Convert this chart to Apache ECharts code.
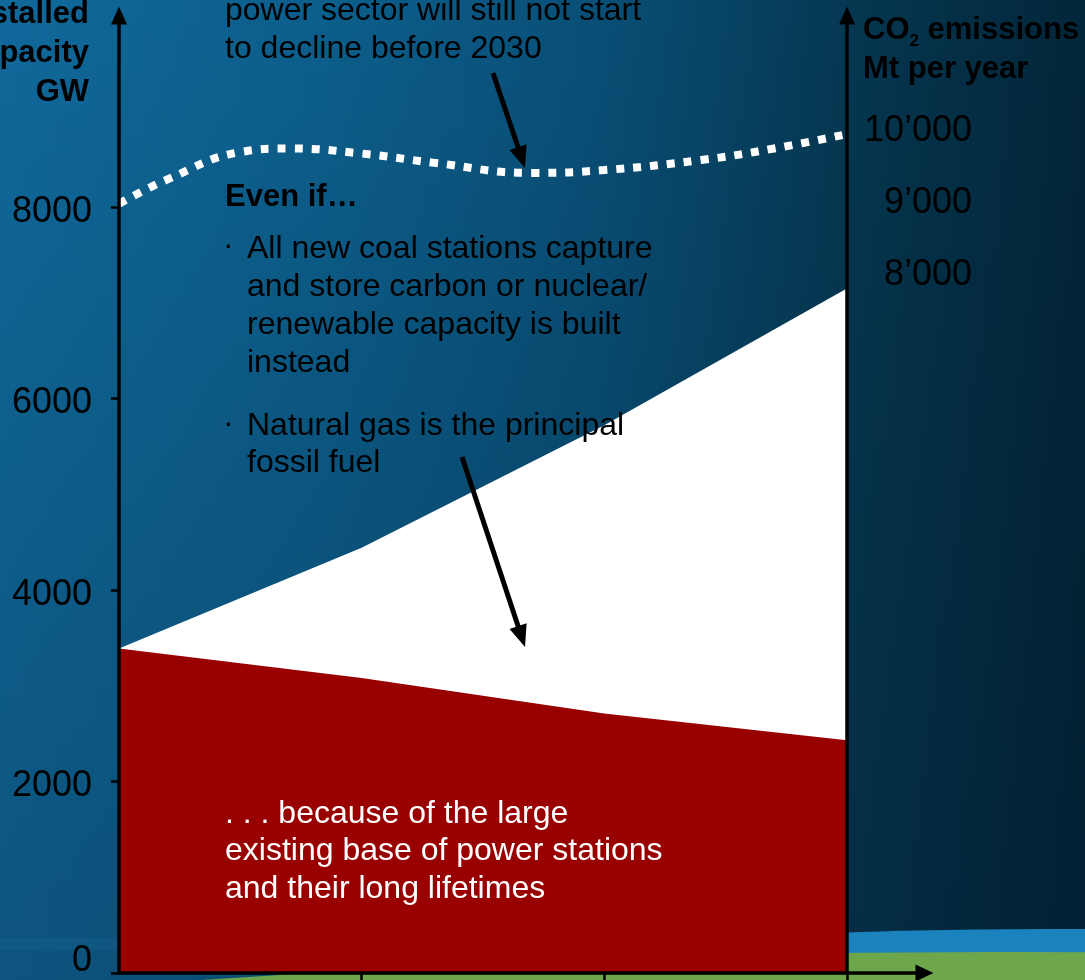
<!DOCTYPE html>
<html>
<head>
<meta charset="utf-8">
<script src="https://cdn.jsdelivr.net/npm/echarts@6/dist/echarts.min.js"></script>
<style>
  html, body { margin: 0; padding: 0; background: #0a4d72; }
  #chart { width: 1085px; height: 980px; }
</style>
</head>
<body>
<div id="chart"></div>
<script>
// Installed power capacity (GW): total vs. the existing stock still in service
const years = [2000, 2010, 2020, 2030];
const totalCapacityGW = [3390, 4440, 5720, 7150];
const existingCapacityGW = [3390, 3080, 2710, 2430];

// Power-sector CO2 emissions (Mt per year)
const co2Years = [2000, 2002, 2005, 2007, 2010, 2013, 2017, 2020, 2024, 2027, 2030];
const co2Mt = [8950, 9290, 9670, 9720, 9650, 9520, 9380, 9420, 9560, 9720, 9920];

// Axis ticks and labels
const capacityTicks = [0, 2000, 4000, 6000, 8000];
const co2Ticks = [8000, 9000, 10000];
const co2TickLabels = ['8’000', '9’000', '10’000'];
const yearTicks = [2010, 2020, 2030];

const FONT = "'Liberation Sans', Arial, Helvetica, sans-serif";

const chart = echarts.init(document.getElementById('chart'), null, { renderer: 'canvas' });

// Straight annotation arrow with a solid triangular head
function arrow(x1, y1, x2, y2) {
  const dx = x2 - x1, dy = y2 - y1;
  const len = Math.sqrt(dx * dx + dy * dy);
  const ux = dx / len, uy = dy / len;
  const head = 22, half = 9;
  const bx = x2 - ux * head, by = y2 - uy * head;
  const nx = -uy, ny = ux;
  return [
    { type: 'line', z: 30, shape: { x1: x1, y1: y1, x2: bx + ux * 2, y2: by + uy * 2 },
      style: { stroke: '#000', lineWidth: 5 } },
    { type: 'polygon', z: 30,
      shape: { points: [[x2, y2], [bx + nx * half, by + ny * half], [bx - nx * half, by - ny * half]] },
      style: { fill: '#000' } }
  ];
}

function label(x, top, text, opts) {
  return {
    type: 'text', z: 30, x: x, y: top,
    style: Object.assign({
      text: text,
      font: '32px ' + FONT,
      fill: '#000',
      lineHeight: 38,
      align: 'left',
      verticalAlign: 'top'
    }, opts || {})
  };
}

const tickFont = { fontFamily: FONT, fontSize: 36, color: '#000' };

const option = {
  animation: false,
  grid: { left: 119, right: 160.5, top: 15.5, bottom: 7, containLabel: false, outerBoundsMode: 'none' },
  xAxis: {
    type: 'value',
    min: 2000,
    max: 2033.2,
    z: 10,
    axisLine: {
      show: true,
      symbol: ['none', 'triangle'],
      symbolSize: [17, 18],
      lineStyle: { color: '#000', width: 3.5 }
    },
    axisTick: { show: true, inside: false, length: 9, customValues: yearTicks,
      lineStyle: { color: '#000', width: 2.5 } },
    axisLabel: { show: false },
    splitLine: { show: false }
  },
  yAxis: [
    {
      type: 'value',
      position: 'left',
      min: 0,
      max: 10000,
      z: 10,
      axisLine: {
        show: true,
        symbol: ['none', 'triangle'],
        symbolSize: [16, 18],
        lineStyle: { color: '#000', width: 3.5 }
      },
      axisTick: { show: true, inside: false, length: 8, customValues: capacityTicks,
        lineStyle: { color: '#000', width: 2.5 } },
      axisLabel: {
        customValues: capacityTicks,
        // labels sit slightly below their ticks; the zero label sits above the baseline
        formatter: function (v) { return v === 0 ? '{zero|0}' : '{n|' + v + '}'; },
        rich: {
          zero: Object.assign({ padding: [0, 0, 24, 0] }, tickFont),
          n: Object.assign({ padding: [10, 0, 0, 0] }, tickFont)
        },
        color: '#000',
        fontFamily: FONT,
        fontSize: 36,
        margin: 27
      },
      splitLine: { show: false }
    },
    {
      type: 'value',
      position: 'right',
      offset: -77.5,
      min: -1750,
      max: 11570,
      z: 10,
      axisLine: {
        show: true,
        symbol: ['none', 'triangle'],
        symbolSize: [16, 18],
        lineStyle: { color: '#000', width: 3.5 }
      },
      axisTick: { show: false },
      axisLabel: {
        customValues: co2Ticks,
        formatter: function (v) {
          const i = co2Ticks.indexOf(v);
          return i >= 0 ? '{n|' + co2TickLabels[i] + '}' : '';
        },
        rich: { n: Object.assign({ padding: [6, 0, 0, 0] }, tickFont) },
        color: '#000',
        fontFamily: FONT,
        fontSize: 36,
        align: 'right',
        margin: 125
      },
      splitLine: { show: false }
    }
  ],
  series: [
    {
      name: 'Total capacity',
      type: 'line',
      yAxisIndex: 0,
      z: 2,
      symbol: 'none',
      data: years.map((y, i) => [y, totalCapacityGW[i]]),
      lineStyle: { width: 0 },
      areaStyle: { color: '#ffffff', opacity: 1 }
    },
    {
      name: 'Existing capacity',
      type: 'line',
      yAxisIndex: 0,
      z: 3,
      symbol: 'none',
      data: years.map((y, i) => [y, existingCapacityGW[i]]),
      lineStyle: { width: 0 },
      areaStyle: { color: '#990000', opacity: 1 }
    },
    {
      name: 'CO2 emissions',
      type: 'line',
      yAxisIndex: 1,
      z: 4,
      symbol: 'none',
      smooth: 0.45,
      data: co2Years.map((y, i) => [y, co2Mt[i]]),
      lineStyle: { color: '#ffffff', width: 8, type: [8, 9], cap: 'butt' }
    }
  ],
  graphic: [
    // backdrop: deep blue, darker to the right and toward the bottom
    { type: 'rect', z: -20, shape: { x: 0, y: 0, width: 1085, height: 980 },
      style: { fill: new echarts.graphic.LinearGradient(0, 0, 1, 0, [
        { offset: 0, color: '#10699b' },
        { offset: 0.3, color: '#0c5e8b' },
        { offset: 0.55, color: '#094f77' },
        { offset: 0.8, color: '#05364f' },
        { offset: 1, color: '#03263a' }
      ]) } },
    { type: 'rect', z: -19, shape: { x: 0, y: 0, width: 1085, height: 980 },
      style: { fill: new echarts.graphic.LinearGradient(0, 0, 0, 1, [
        { offset: 0, color: 'rgba(0,0,0,0)' },
        { offset: 1, color: 'rgba(0,10,25,0.22)' }
      ]) } },
    // faint glow line at the lower left
    { type: 'rect', z: -18, shape: { x: 0, y: 938, width: 119, height: 12 },
      style: { fill: 'rgba(50,140,190,0.09)' } },
    // horizon: atmosphere band and land
    { type: 'circle', z: -17, shape: { cx: 1050, cy: 929 + 6000, r: 6000 },
      style: { fill: '#1a82bc' } },
    { type: 'circle', z: -16, shape: { cx: 1000, cy: 952 + 11400, r: 11400 },
      style: { fill: '#6ea74b' } },

    // axis titles
    label(89, -5.5, 'Installed\ncapacity\nGW',
      { font: 'bold 31px ' + FONT, align: 'right', lineHeight: 39 }),
    label(863, 10.5, 'CO{s|2} emissions\nMt per year',
      { font: 'bold 31px ' + FONT, lineHeight: 39,
        rich: { s: { fontFamily: FONT, fontWeight: 'bold', fontSize: 17, verticalAlign: 'bottom', lineHeight: 30 } } }),

    // annotations
    label(225, -8, 'power sector will still not start\nto decline before 2030'),
    ...arrow(493, 73, 525, 168),
    label(225, 178, 'Even if…', { font: 'bold 31px ' + FONT }),
    label(223, 227, '·'),
    label(247, 230, 'All new coal stations capture\nand store carbon or nuclear/\nrenewable capacity is built\ninstead', { lineHeight: 38 }),
    label(223, 405, '·'),
    label(247, 408, 'Natural gas is the principal\nfossil fuel', { lineHeight: 37 }),
    ...arrow(462, 457, 525, 647),
    label(225, 795, '. . . because of the large\nexisting base of power stations\nand their long lifetimes',
      { fill: '#ffffff', lineHeight: 37.5 })
  ]
};

chart.setOption(option);
</script>
</body>
</html>
